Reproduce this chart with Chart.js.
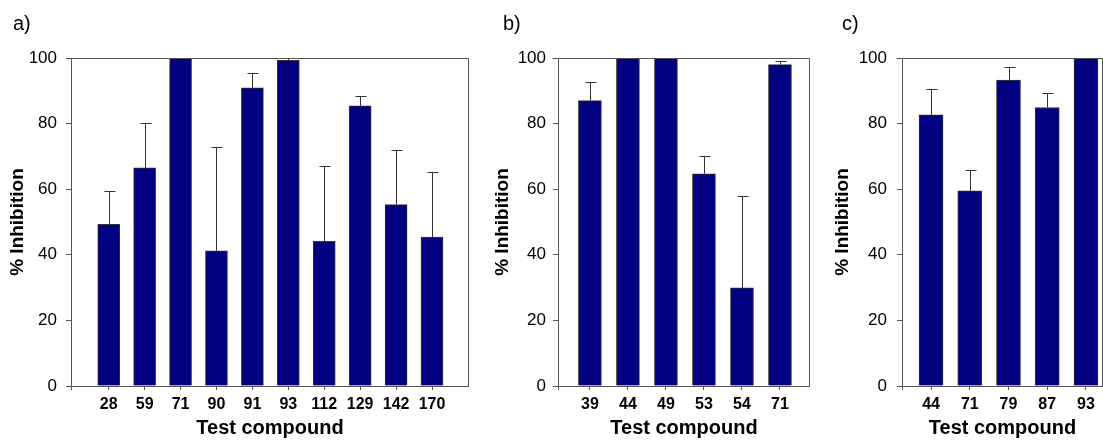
<!DOCTYPE html>
<html>
<head>
<meta charset="utf-8">
<script src="https://cdn.jsdelivr.net/npm/chart.js@4.4.1/dist/chart.umd.min.js"></script>
<style>
  html, body { margin: 0; padding: 0; background: #fff; overflow: hidden; }
  body { width: 1103px; height: 440px; position: relative; }
  .panel { position: absolute; top: 0; height: 440px; }
</style>
</head>
<body>
<div class="panel" style="left:0;width:469px"><canvas id="chartA"></canvas></div>
<div class="panel" style="left:480px;width:330px"><canvas id="chartB"></canvas></div>
<div class="panel" style="left:820px;width:283px"><canvas id="chartC"></canvas></div>
<script>
// panel a
const compoundsA = ["28", "59", "71", "90", "91", "93", "112", "129", "142", "170"];
const inhibitionA = [49.3, 66.5, 100, 41.2, 90.9, 99.3, 44.1, 85.4, 55.3, 45.4];
const errorA = [10.0, 13.8, 0, 31.6, 4.4, 0.7, 23.1, 3.1, 16.8, 19.9];

// panel b
const compoundsB = ["39", "44", "49", "53", "54", "71"];
const inhibitionB = [87.0, 100, 100, 64.7, 29.9, 98.0];
const errorB = [5.8, 0, 0, 5.3, 28.1, 1.1];

// panel c
const compoundsC = ["44", "71", "79", "87", "93"];
const inhibitionC = [82.7, 59.5, 93.3, 84.9, 100];
const errorC = [7.9, 6.4, 4.0, 4.4, 0];

const yTicks = [0, 20, 40, 60, 80, 100];

const FONT = "'Liberation Sans', Arial, sans-serif";
const BAR = "#000080";
const LINE = "#555";

// upward error bars + top/right frame + panel letter
const extras = {
  id: "extras",
  afterDatasetsDraw(chart, args, opts) {
    const { ctx, chartArea } = chart;
    const xs = chart.scales.x, ys = chart.scales.y;
    ctx.save();
    ctx.strokeStyle = "#333";
    ctx.lineWidth = 1;
    opts.values.forEach((v, i) => {
      const e = opts.errors[i];
      if (!e) return;
      const x = Math.round(xs.getPixelForValue(i + 1)) + 0.5;
      const y0 = ys.getPixelForValue(v);
      const y1 = Math.round(ys.getPixelForValue(Math.min(v + e, 100))) + 0.5;
      ctx.beginPath();
      ctx.moveTo(x, y0);
      ctx.lineTo(x, y1);
      ctx.moveTo(x - 5, y1);
      ctx.lineTo(x + 6, y1);
      ctx.stroke();
    });
    ctx.strokeStyle = LINE;
    ctx.beginPath();
    const t = Math.round(chartArea.top) + 0.5;
    const r = Math.round(chartArea.right) - 0.5;
    ctx.moveTo(chartArea.left, t);
    ctx.lineTo(r, t);
    ctx.lineTo(r, chartArea.bottom);
    ctx.stroke();
    ctx.fillStyle = "#000";
    ctx.font = "20px " + FONT;
    ctx.textBaseline = "alphabetic";
    ctx.fillText(opts.letter, opts.letterX, 30);
    ctx.restore();
  }
};

function makePanel(id, cats, values, errors, cfg) {
  const points = values.map((v, i) => ({ x: i + 1, y: v }));
  new Chart(document.getElementById(id), {
    type: "bar",
    data: {
      datasets: [{
        data: points,
        backgroundColor: BAR,
        borderColor: "#333",
        borderWidth: 1,
        barThickness: cfg.barWidth
      }]
    },
    options: {
      responsive: true,
      maintainAspectRatio: false,
      animation: false,
      layout: { padding: { top: 58, right: 0, bottom: 0, left: 0 } },
      plugins: {
        legend: { display: false },
        tooltip: { enabled: false },
        extras: { values, errors, letter: cfg.letter, letterX: cfg.letterX }
      },
      scales: {
        x: {
          type: "linear",
          min: cfg.xMin,
          max: cfg.xMax,
          offset: false,
          afterBuildTicks(scale) {
            scale.ticks = [{ value: cfg.xMin }].concat(cats.map((c, i) => ({ value: i + 1 })), [{ value: cfg.xMax }]);
          },
          afterFit(scale) {
            scale.height = 54;
            scale.paddingLeft = 0;
            scale.paddingRight = 0;
          },
          ticks: {
            autoSkip: false,
            maxRotation: 0,
            padding: 5,
            color: "#000",
            font: { family: FONT, size: 16, weight: "bold" },
            callback: (v) => (Number.isInteger(v) && v >= 1 && v <= cats.length) ? cats[v - 1] : ""
          },
          grid: { display: true, drawOnChartArea: false, drawTicks: true, tickLength: 4, color: LINE, offset: false },
          border: { display: true, color: LINE },
          title: {
            display: true,
            text: "Test compound",
            color: "#000",
            padding: { top: 0, bottom: 0 },
            font: { family: FONT, size: 20, weight: "bold" }
          }
        },
        y: {
          min: 0,
          max: 100,
          afterBuildTicks(scale) { scale.ticks = yTicks.map(v => ({ value: v })); },
          afterFit(scale) {
            scale.width = cfg.yWidth;
            scale.paddingTop = 0;
            scale.paddingBottom = 0;
          },
          ticks: {
            padding: cfg.tickPad,
            color: "#000",
            font: { family: FONT, size: 17 }
          },
          grid: { display: true, drawOnChartArea: false, drawTicks: true, tickLength: 5, color: LINE },
          border: { display: true, color: LINE },
          title: {
            display: true,
            text: "% Inhibition",
            color: "#000",
            padding: { top: cfg.titlePad, bottom: 0 },
            font: { family: FONT, size: 19, weight: "bold" }
          }
        }
      }
    },
    plugins: [extras]
  });
}

makePanel("chartA", compoundsA, inhibitionA, errorA,
  { xMin: -0.05, xMax: 11.03, yWidth: 71, tickPad: 9, titlePad: 6.6, barWidth: 22, letter: "a)", letterX: 13 });
makePanel("chartB", compoundsB, inhibitionB, errorB,
  { xMin: 0.16, xMax: 6.79, yWidth: 78, tickPad: 7, titlePad: 11.6, barWidth: 23, letter: "b)", letterX: 23 });
makePanel("chartC", compoundsC, inhibitionC, errorC,
  { xMin: 0.25, xMax: 5.44, yWidth: 82, tickPad: 10, titlePad: 11.6, barWidth: 24, letter: "c)", letterX: 22 });
</script>
</body>
</html>
